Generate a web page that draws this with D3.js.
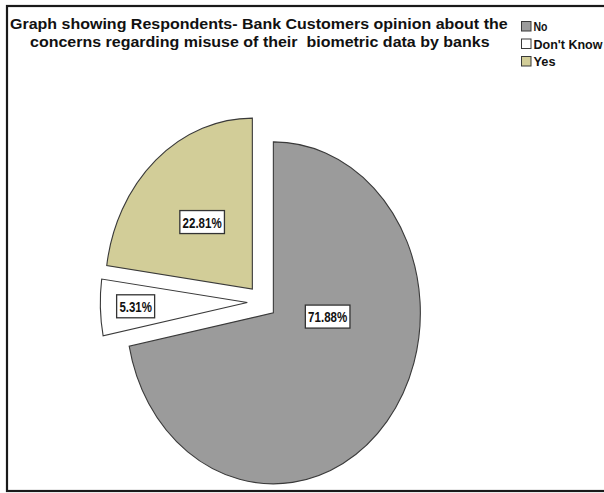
<!DOCTYPE html>
<html>
<head>
<meta charset="utf-8">
<script src="https://cdn.jsdelivr.net/npm/d3@7"></script>
<style>
  html, body { margin: 0; padding: 0; background: #fff; }
  svg { display: block; }
</style>
</head>
<body>
<svg id="chart" width="604" height="493"></svg>
<script>
// Survey answers and their shares (percent)
const categories = ["No", "Don't Know", "Yes"];
const shares = [71.88, 5.31, 22.81];
const shareLabels = ["71.88%", "5.31%", "22.81%"];
const titleLines = [
  "Graph showing Respondents- Bank Customers opinion about the",
  "concerns regarding misuse of their  biometric data by banks"
];

// Styling
const sliceColors = ["#9b9b9b", "#ffffff", "#d2cd98"];
const strokeColor = "#3a3a3a";
const fontFamily = "Liberation Sans, Arial, sans-serif";

// Layout
const cx = 262, cy = 302;      // pie centre
const rx = 147, ry = 171;      // the pie is drawn slightly taller than wide
const explode = 0.1;           // every slice pulled out by this fraction of the radius
// label placement: fraction of the radius and angle shift (degrees) from the slice middle
const labelRadius = [0.37, 0.76, 0.52];
const labelShift = [-36, 0, 0];

const svg = d3.select("#chart");

// frame
svg.append("rect")
  .attr("x", 7).attr("y", 6)
  .attr("width", 610).attr("height", 485)
  .attr("fill", "none")
  .attr("stroke", "#1a1a1a")
  .attr("stroke-width", 2.2);

// title: a bold face squeezed slightly so the first line spans the plot width
const titleStarts = [[10, 28.5], [30, 46.5]];
const titleWidth = 498;
const titleNodes = titleLines.map((t, i) =>
  svg.append("text")
    .attr("font-family", fontFamily)
    .attr("font-weight", "bold").attr("font-size", 15).attr("fill", "#111")
    .style("white-space", "pre")
    .text(t));
const squeeze = titleWidth / titleNodes[0].node().getComputedTextLength();
titleNodes.forEach((n, i) =>
  n.attr("transform", `translate(${titleStarts[i][0]},${titleStarts[i][1]}) scale(${squeeze},1)`));

// legend
const legend = svg.append("g").attr("transform", "translate(521,21)");
const legendRow = d3.scaleBand().domain(categories).range([0, 52.5]);
const legendWidths = [14, 69, 22];
categories.forEach((c, i) => {
  const g = legend.append("g").attr("transform", `translate(0,${legendRow(c)})`);
  g.append("rect")
    .attr("x", 0.5).attr("y", 0.5).attr("width", 9.5).attr("height", 9.5)
    .attr("fill", sliceColors[i]).attr("stroke", strokeColor).attr("stroke-width", 1);
  g.append("text")
    .attr("x", 12.5).attr("y", 10)
    .attr("font-family", fontFamily)
    .attr("font-weight", "bold").attr("font-size", 12.5).attr("fill", "#111")
    .attr("textLength", legendWidths[i])
    .attr("lengthAdjust", "spacingAndGlyphs")
    .text(c);
});

// pie
const pie = d3.pie().sort(null).value(d => d)(shares);
const arc = d3.arc().innerRadius(0).outerRadius(rx);
const sy = ry / rx;

const slices = svg.append("g");
const labels = svg.append("g");
pie.forEach((p, i) => {
  const mid = (p.startAngle + p.endAngle) / 2;
  const ox = cx + explode * rx * Math.sin(mid);
  const oy = cy - explode * ry * Math.cos(mid);
  slices.append("path")
    .attr("transform", `translate(${ox},${oy}) scale(1,${sy})`)
    .attr("d", arc(p))
    .attr("fill", sliceColors[i])
    .attr("stroke", strokeColor)
    .attr("stroke-width", 1.1)
    .attr("vector-effect", "non-scaling-stroke");

  // value label in a white box
  const a = mid + labelShift[i] * Math.PI / 180;
  const lx = ox + labelRadius[i] * rx * Math.sin(a);
  const ly = oy - labelRadius[i] * ry * Math.cos(a);
  const lg = labels.append("g").attr("transform", `translate(${lx},${ly})`);
  const w = shareLabels[i].length * 6.6;
  lg.append("rect")
    .attr("x", -w / 2 - 2.5).attr("y", -11.5)
    .attr("width", w + 5).attr("height", 23)
    .attr("fill", "#fff").attr("stroke", "#333").attr("stroke-width", 1.3);
  lg.append("text")
    .attr("x", 0).attr("y", 5.5)
    .attr("text-anchor", "middle")
    .attr("font-family", fontFamily)
    .attr("font-weight", "bold").attr("font-size", 15).attr("fill", "#111")
    .attr("textLength", w - 0.5)
    .attr("lengthAdjust", "spacingAndGlyphs")
    .text(shareLabels[i]);
});
</script>
</body>
</html>
